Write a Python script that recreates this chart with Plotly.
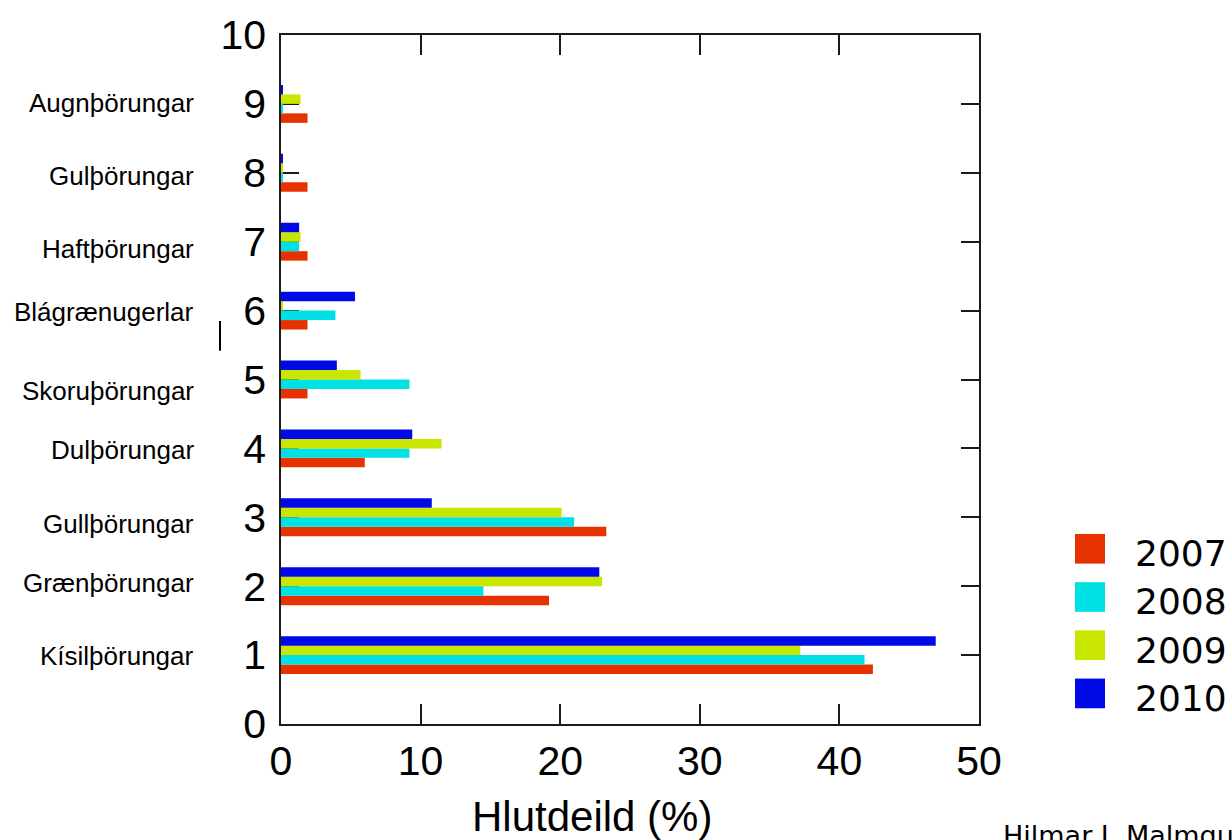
import plotly.graph_objects as go

# Hlutdeild þörungahópa (%) eftir árum
categories = [1, 2, 3, 4, 5, 6, 7, 8, 9]
group_names = ['Kísilþörungar', 'Grænþörungar', 'Gullþörungar', 'Dulþörungar',
               'Skoruþörungar', 'Blágrænugerlar', 'Haftþörungar', 'Gulþörungar',
               'Augnþörungar']
years = ['2007', '2008', '2009', '2010']
share_2007 = [42.4, 19.2, 23.3, 6.0, 1.9, 1.9, 1.9, 1.9, 1.9]
share_2008 = [41.8, 14.5, 21.0, 9.2, 9.2, 3.9, 1.3, 0.1, 0.1]
share_2009 = [37.2, 23.0, 20.1, 11.5, 5.7, 0.1, 1.4, 0.1, 1.4]
share_2010 = [46.9, 22.8, 10.8, 9.4, 4.0, 5.3, 1.3, 0.1, 0.1]
x_ticks = [0, 10, 20, 30, 40, 50]
y_ticks = [0, 1, 2, 3, 4, 5, 6, 7, 8, 9, 10]

COLORS = ['#E63200', '#00E1E6', '#C8E600', '#000AE6']
W, H = 1232, 840
# plot area in pixels
L, R, T, B = 281, 979, 28, 724

# small vertical nudges so the group names sit where they do in the original
LABEL_NUDGE = [-0.01, 0.05, -0.10, -0.03, -0.17, -0.02, -0.10, -0.04, 0.01]


def px_x(px):
    return (px - L) / (R - L)


def px_y(py):
    return (B - py) / (B - T)


fig = go.Figure()
for year, values, color in zip(years, [share_2007, share_2008, share_2009, share_2010], COLORS):
    fig.add_trace(go.Bar(x=values, y=categories, name=year, orientation='h',
                         marker=dict(color=color, line=dict(width=0))))

axis_style = dict(showline=True, linecolor='#1a1a1a', linewidth=1.6, mirror='ticks',
                  ticks='inside', tickcolor='#1a1a1a', tickwidth=1.6, showgrid=False,
                  zeroline=False, layer='below traces',
                  tickfont=dict(family='Liberation Sans, Arial', size=41, color='black'))

fig.update_xaxes(range=[0, 50], tickvals=x_ticks, ticklen=20, ticklabelstandoff=0, **axis_style)
fig.update_yaxes(range=[0, 10], tickvals=y_ticks, ticklen=18, ticklabelstandoff=5, **axis_style)

annotations = []
for cat, name, nudge in zip(categories, group_names, LABEL_NUDGE):
    annotations.append(dict(x=px_x(196), xref='paper', xanchor='right', y=cat + nudge, yref='y',
                            yanchor='middle', text=name, showarrow=False,
                            font=dict(family='Liberation Sans, Arial', size=26, color='black')))

# x-axis title, set a bit left of centre as in the original
annotations.append(dict(x=px_x(592), xref='paper', xanchor='center', y=px_y(817), yref='paper',
                        yanchor='middle', text='Hlutdeild (%)', showarrow=False,
                        font=dict(family='Liberation Sans, Arial', size=42, color='black')))
# credit line, runs off the bottom-right corner like in the original
annotations.append(dict(x=px_x(1001), xref='paper', xanchor='left', y=px_y(837), yref='paper',
                        yanchor='middle', text='Hilmar J. Malmquist', showarrow=False,
                        font=dict(family='DejaVu Sans', size=27, color='black')))

# legend drawn by hand: big squares with year labels
shapes = []
for i, (year, color) in enumerate(zip(years, COLORS)):
    cy = 547 + i * 48.7
    shapes.append(dict(type='rect', xref='paper', yref='paper', x0=px_x(1075), x1=px_x(1105),
                       y0=px_y(cy + 15), y1=px_y(cy - 15), fillcolor=color, line=dict(width=0)))
    annotations.append(dict(x=px_x(1133), xref='paper', xanchor='left', y=px_y(cy + 5), yref='paper',
                            yanchor='middle', text=year, showarrow=False,
                            font=dict(family='DejaVu Sans', size=36, color='black')))

# stray tick mark left of the axis in the original
shapes.append(dict(type='line', xref='paper', yref='paper', x0=px_x(220), x1=px_x(220),
                   y0=px_y(317), y1=px_y(347), line=dict(color='black', width=2)))

fig.update_layout(width=W, height=H, margin=dict(l=L, r=W - R, t=T, b=H - B),
                  barmode='group', bargap=0.45, bargroupgap=0, showlegend=False,
                  plot_bgcolor='white', paper_bgcolor='white',
                  annotations=annotations, shapes=shapes)

# drop the default page margin so the figure fills the window exactly
fig.write_html("out.html", config={'displayModeBar': False},
               post_script="document.body.style.margin='0';document.body.style.overflow='hidden';")
